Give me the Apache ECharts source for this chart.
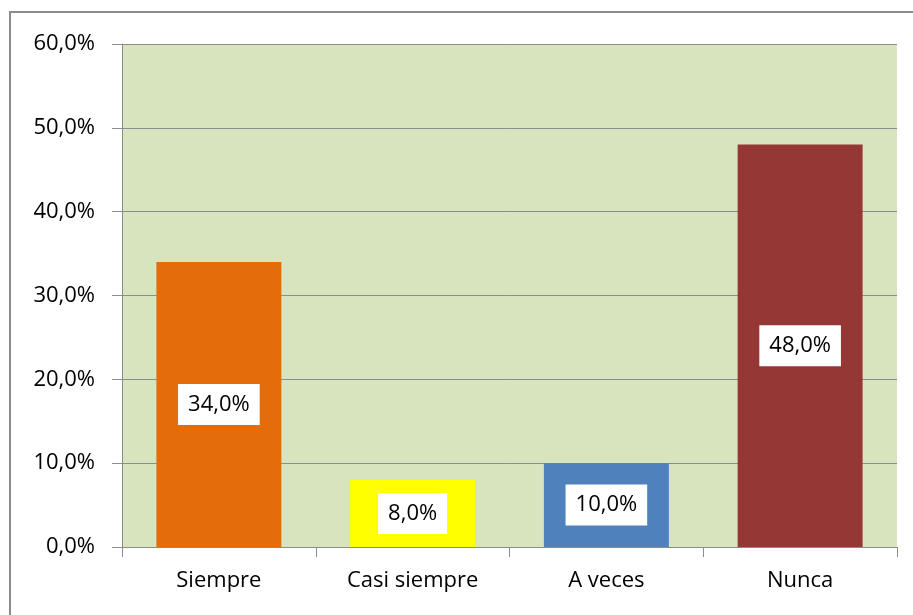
<!DOCTYPE html>
<html>
<head>
<meta charset="utf-8">
<script src="https://cdn.jsdelivr.net/npm/echarts@6/dist/echarts.min.js"></script>
<style>
  html, body { margin: 0; padding: 0; background: #fff; }
  #chart { width: 913px; height: 615px; position: relative; }
  .frame {
    position: absolute; left: 9px; top: 11px; width: 920px; height: 620px;
    border: 2px solid #8c8c8c; box-sizing: border-box; pointer-events: none;
  }
</style>
</head>
<body>
<div id="chart"></div>
<div class="frame"></div>
<script>
// datos
const categorias = ["Siempre", "Casi siempre", "A veces", "Nunca"];
const valores = [34.0, 8.0, 10.0, 48.0];
const colores = ["#E46C0A", "#FFFF00", "#4F81BD", "#953735"];
const ticksY = [0, 10, 20, 30, 40, 50, 60];

const fmt = (v) => v.toFixed(1).replace(".", ",") + "%";
const fuente = "'Open Sans', 'Noto Sans', sans-serif";

const chart = echarts.init(document.getElementById("chart"));

const option = {
  animation: false,
  textStyle: { fontFamily: fuente },
  grid: {
    left: 122,
    right: 16,
    top: 44,
    bottom: 68,
    show: true,
    backgroundColor: "#D7E4BD",
    borderWidth: 0,
  },
  xAxis: {
    type: "category",
    data: categorias,
    axisLine: { lineStyle: { color: "#8c8c8c", width: 1 } },
    axisTick: { show: true, length: 10, lineStyle: { color: "#8c8c8c" } },
    axisLabel: { color: "#000", fontSize: 22, margin: 23, fontFamily: fuente },
  },
  yAxis: {
    type: "value",
    min: ticksY[0],
    max: ticksY[ticksY.length - 1],
    interval: 10,
    axisLine: { show: true, lineStyle: { color: "#8c8c8c", width: 1 } },
    axisTick: { show: true, length: 10, lineStyle: { color: "#8c8c8c" } },
    splitLine: { show: true, lineStyle: { color: "#8c8c8c", width: 1 } },
    axisLabel: {
      color: "#000",
      fontSize: 22,
      margin: 27,
      fontFamily: fuente,
      formatter: (v) => fmt(v),
    },
  },
  series: [
    {
      type: "bar",
      barWidth: "64.5%",
      data: valores.map((v, i) => ({ value: v, itemStyle: { color: colores[i] } })),
      label: {
        show: true,
        position: "inside",
        formatter: (p) => fmt(p.value),
        color: "#000",
        fontSize: 22,
        fontFamily: fuente,
        backgroundColor: "#fff",
        padding: [10, 10, 9, 10],
      },
    },
  ],
};

chart.setOption(option);
</script>
</body>
</html>
